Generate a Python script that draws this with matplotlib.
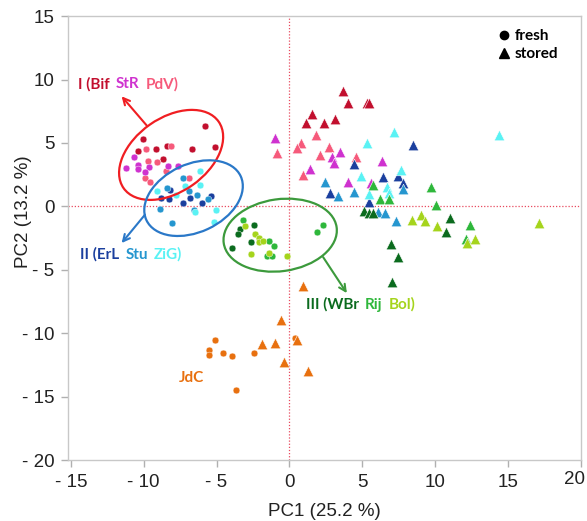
import matplotlib
matplotlib.use('Agg')
import matplotlib.pyplot as plt
import matplotlib.transforms as mtransforms
from matplotlib.patches import Ellipse
from matplotlib.lines import Line2D
import numpy as np

# PCA scores per cultivar: fresh (circles) and stored (triangles)
bif_fresh_x = [-5.8, -10.05, -10.37, -9.18, -8.42, -6.7, -5.12, -8.65]
bif_fresh_y = [6.37, 5.34, 4.4, 4.49, 4.79, 4.52, 4.66, 3.72]
pdv_fresh_x = [-9.85, -9.7, -9.06, -8.15, -9.9, -9.57, -8.5, -6.86]
pdv_fresh_y = [4.53, 3.6, 3.5, 4.74, 2.25, 1.9, 2.8, 2.25]
str_fresh_x = [-10.65, -11.24, -10.41, -10.37, -9.64, -9.91, -8.35, -7.62]
str_fresh_y = [3.87, 3.0, 3.27, 2.92, 3.11, 2.72, 3.21, 3.21]

erl_fresh_x = [-8.79, -8.27, -8.17, -7.29, -6.82, -5.97, -5.35]
erl_fresh_y = [0.63, 0.61, 1.29, 0.26, 0.63, 0.24, 0.82]
stu_fresh_x = [-8.4, -7.31, -6.89, -6.36, -5.6, -8.9, -6.55, -8.06]
stu_fresh_y = [1.47, 2.24, 1.24, 0.92, 0.58, -0.24, -0.26, -1.3]
zig_fresh_x = [-9.07, -7.8, -7.16, -6.15, -6.15, -6.45, -5.04, -5.2]
zig_fresh_y = [1.18, 0.9, 1.58, 1.66, 2.79, -0.45, -0.26, -1.21]

wbr_fresh_x = [-3.4, -3.54, -3.95, -2.42, -2.6]
wbr_fresh_y = [-1.76, -2.2, -3.28, -1.47, -2.84]
rij_fresh_x = [-3.15, -1.37, -1.05, -1.55, -1.18, 1.92, 2.3]
rij_fresh_y = [-1.1, -2.75, -3.1, -3.92, -3.9, -2.05, -1.5]
bol_fresh_x = [-3.04, -2.33, -2.1, -2.05, -1.82, -1.4, -2.64, -0.18]
bol_fresh_y = [-1.52, -2.2, -2.5, -2.78, -2.76, -3.68, -3.78, -3.95]

jdc_fresh_x = [-5.13, -5.52, -5.52, -4.54, -3.95, -2.43, -3.68, 0.36]
jdc_fresh_y = [-10.52, -11.31, -11.68, -11.58, -11.76, -11.58, -14.51, -10.4]

bif_stored_x = [3.7, 4.0, 5.3, 5.5, 1.55, 1.12, 2.35, 3.15]
bif_stored_y = [9.1, 8.18, 8.13, 8.13, 7.26, 6.55, 6.58, 6.87]
pdv_stored_x = [-0.82, 0.82, 0.53, 1.83, 2.73, 2.12, 0.93, 4.56]
pdv_stored_y = [4.21, 5.02, 4.61, 5.64, 4.68, 4.05, 2.49, 3.89]
str_stored_x = [-1.0, 3.46, 2.93, 3.1, 1.43, 6.38, 4.06, 5.6]
str_stored_y = [5.4, 4.31, 3.92, 3.4, 2.98, 3.58, 1.9, 1.87]

erl_stored_x = [8.5, 4.44, 6.45, 7.45, 7.8, 2.82, 5.45]
erl_stored_y = [4.85, 3.35, 2.32, 2.43, 1.83, 1.08, 0.35]
stu_stored_x = [2.46, 3.35, 4.42, 7.84, 6.1, 6.6, 7.32]
stu_stored_y = [1.9, 0.79, 1.16, 1.4, -0.48, -0.55, -1.18]
zig_stored_x = [7.18, 14.4, 5.3, 7.7, 4.95, 5.45, 6.74, 6.86]
zig_stored_y = [5.9, 5.6, 4.98, 2.85, 2.37, 1.0, 1.53, 1.06]

wbr_stored_x = [11.05, 10.75, 7.0, 7.48, 7.06, 5.1, 5.45, 5.75]
wbr_stored_y = [-0.9, -2.02, -3.0, -3.97, -5.98, -0.38, -0.55, -0.55]
rij_stored_x = [9.7, 10.1, 12.42, 12.1, 6.22, 6.85, 5.75]
rij_stored_y = [1.52, 0.13, -1.45, -2.6, 0.55, 0.62, 1.7]
bol_stored_x = [8.42, 9.05, 9.32, 10.13, 12.72, 12.23, 17.18]
bol_stored_y = [-1.08, -0.66, -1.14, -1.58, -2.57, -2.89, -1.33]

jdc_stored_x = [-0.54, -1.89, -0.98, 0.56, -0.34, 1.25, 0.94]
jdc_stored_y = [-8.94, -10.86, -10.78, -10.57, -12.28, -12.94, -6.31]

x_ticks = [-15, -10, -5, 0, 5, 10, 15, 20]
x_tick_labels = ['- 15', '- 10', '- 5', '0', '5', '10', '15', '20']
y_ticks = [-20, -15, -10, -5, 0, 5, 10, 15]
y_tick_labels = ['- 20', '- 15', '- 10', '- 5', '0', '5', '10', '15']

C = {
    'Bif': '#C20F2E', 'StR': '#CF32CF', 'PdV': '#F65A7B',
    'ErL': '#1B3F9E', 'Stu': '#2596CF', 'ZiG': '#5AF2F4',
    'WBr': '#0B6B1E', 'Rij': '#2EB73B', 'Bol': '#A5D41C',
    'JdC': '#E8700F',
}

fig = plt.figure(figsize=(5.87, 5.21), dpi=100)
ax = fig.add_axes([0.1164, 0.117, 0.8726, 0.852])
ax.set_xlim(-15.18, 20)
ax.set_ylim(-20, 15)

ax.axhline(0, color='#E84A5F', lw=0.9, ls=(0, (1, 1.5)), zorder=1)
ax.axvline(0, color='#E84A5F', lw=0.9, ls=(0, (1, 1.5)), zorder=1)

fresh = [
    (bif_fresh_x, bif_fresh_y, 'Bif'), (pdv_fresh_x, pdv_fresh_y, 'PdV'),
    (str_fresh_x, str_fresh_y, 'StR'), (erl_fresh_x, erl_fresh_y, 'ErL'),
    (stu_fresh_x, stu_fresh_y, 'Stu'), (zig_fresh_x, zig_fresh_y, 'ZiG'),
    (wbr_fresh_x, wbr_fresh_y, 'WBr'), (rij_fresh_x, rij_fresh_y, 'Rij'),
    (bol_fresh_x, bol_fresh_y, 'Bol'), (jdc_fresh_x, jdc_fresh_y, 'JdC'),
]
stored = [
    (bif_stored_x, bif_stored_y, 'Bif'), (pdv_stored_x, pdv_stored_y, 'PdV'),
    (str_stored_x, str_stored_y, 'StR'), (erl_stored_x, erl_stored_y, 'ErL'),
    (stu_stored_x, stu_stored_y, 'Stu'), (zig_stored_x, zig_stored_y, 'ZiG'),
    (wbr_stored_x, wbr_stored_y, 'WBr'), (rij_stored_x, rij_stored_y, 'Rij'),
    (bol_stored_x, bol_stored_y, 'Bol'), (jdc_stored_x, jdc_stored_y, 'JdC'),
]
for xs, ys, k in fresh:
    ax.scatter(xs, ys, s=24, marker='o', color=C[k], edgecolors='white',
               linewidths=0.3, zorder=3)
for xs, ys, k in stored:
    ax.scatter(xs, ys, s=58, marker='^', color=C[k], edgecolors='white',
               linewidths=0.4, zorder=3)

# group ellipses, sized in pixels and centred on a data point
def group_ellipse(cx, cy, a_px, b_px, angle, color):
    tr = fig.dpi_scale_trans + mtransforms.ScaledTranslation(cx, cy, ax.transData)
    e = Ellipse((0, 0), 2 * a_px / fig.dpi, 2 * b_px / fig.dpi, angle=angle,
                fill=False, edgecolor=color, lw=1.6, transform=tr, zorder=4)
    ax.add_patch(e)

group_ellipse(-8.12, 4.06, 58, 37, 35, '#F01E22')
group_ellipse(-6.58, 0.65, 52, 34, 25, '#2A78C8')
group_ellipse(-0.63, -2.27, 57, 36, 8, '#3C9A3C')

arrows = [((-9.79, 6.37), (-11.52, 8.68), '#F01E22'),
          ((-9.92, -0.66), (-11.52, -2.89), '#2A78C8'),
          ((2.32, -4.0), (3.95, -6.84), '#3C9A3C')]
for start, end, col in arrows:
    ax.annotate('', xy=end, xytext=start,
                arrowprops=dict(arrowstyle='->', color=col, lw=1.5,
                                shrinkA=0, shrinkB=0, mutation_scale=12),
                zorder=4)

label_font = dict(family='Lato', weight='bold', fontsize=11)

def color_label(x, y, parts):
    t = ax.text(x, y, parts[0][0], color=parts[0][1], va='center', **label_font)
    for s, col in parts[1:]:
        t = ax.annotate(s, xy=(1, 0), xycoords=t, xytext=(4.5, 0),
                        textcoords='offset points', color=col, va='bottom',
                        **label_font)

color_label(-14.52, 9.66, [('I (Bif', C['Bif']), ('StR', C['StR']), ('PdV)', C['PdV'])])
color_label(-14.39, -3.81, [('II (ErL', C['ErL']), ('Stu', C['Stu']), ('ZiG)', C['ZiG'])])
color_label(1.11, -7.76, [('III (WBr', C['WBr']), ('Rij', C['Rij']), ('Bol)', C['Bol'])])
ax.text(-7.59, -13.5, 'JdC', color=C['JdC'], va='center', **label_font)

handles = [Line2D([], [], marker='o', ls='', color='black', markersize=6),
           Line2D([], [], marker='^', ls='', color='black', markersize=7)]
ax.legend(handles, ['fresh', 'stored'], loc='upper left',
          bbox_to_anchor=(0.826, 0.988), frameon=False, handlelength=0.6,
          handletextpad=0.45, labelspacing=0.25, borderpad=0,
          prop=dict(family='Lato', weight='bold', size=11))

ax.set_xticks(x_ticks)
ax.set_xticklabels(x_tick_labels)
ax.set_yticks(y_ticks)
ax.set_yticklabels(y_tick_labels)
for lab in ax.get_xticklabels() + ax.get_yticklabels():
    lab.set_family('Liberation Sans')
ax.tick_params(length=5, width=1, color='#B0B0B0', labelsize=13.5,
               labelcolor='#222222', pad=5)
# last x label sits a little left so it stays inside the figure
last = ax.get_xticklabels()[-1]
last.set_transform(last.get_transform() +
                   mtransforms.ScaledTranslation(-0.06, 0.03, fig.dpi_scale_trans))
for sp in ax.spines.values():
    sp.set_color('#C8C8C8')
    sp.set_linewidth(1)

ax.set_xlabel('PC1 (25.2 %)', fontsize=13.5, family='Liberation Sans',
              color='#222222', labelpad=8.5)
ax.set_ylabel('PC2 (13.2 %)', fontsize=13.5, family='Liberation Sans',
              color='#222222')
ax.yaxis.set_label_coords(-0.07, 0.56)

fig.savefig('out.png', dpi=100)
